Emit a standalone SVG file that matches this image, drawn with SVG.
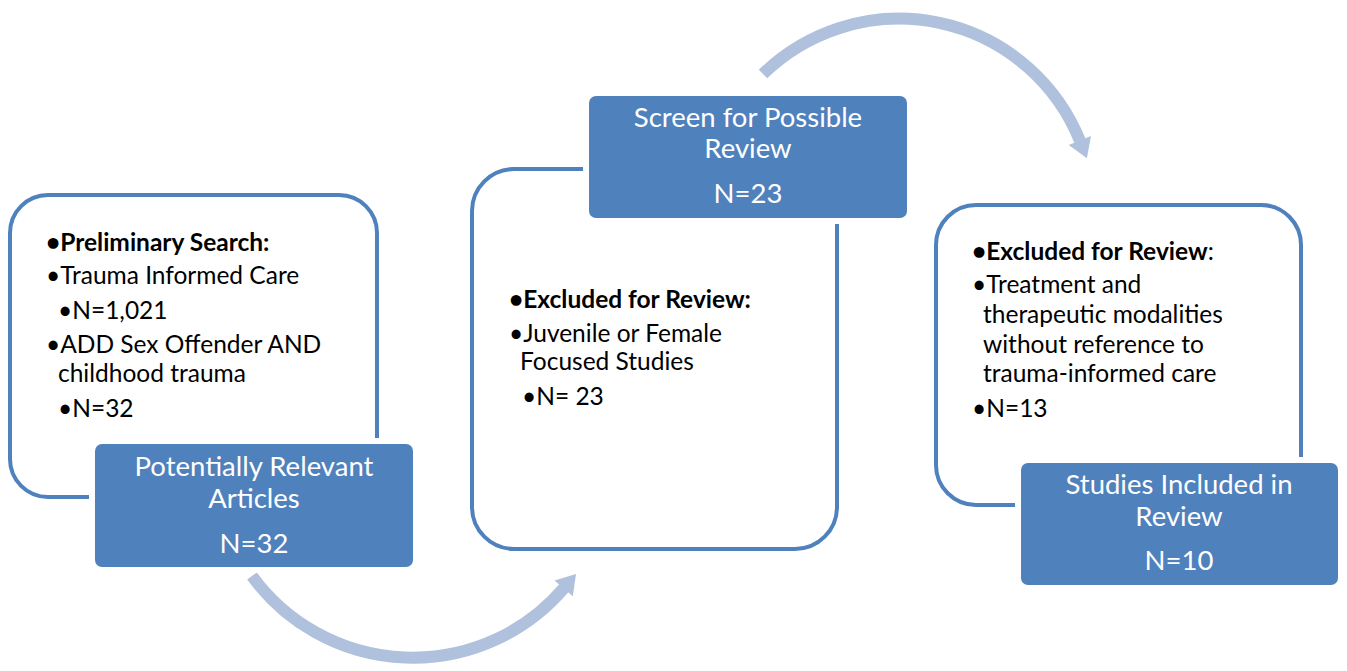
<svg xmlns="http://www.w3.org/2000/svg" width="1347" height="671" viewBox="0 0 1347 671">
<defs>
<style>
.outline{fill:#ffffff;stroke:#4f81bd;stroke-width:4}
.halo{fill:#ffffff;stroke:#ffffff;stroke-width:12}
.fill{fill:#4f81bd}
.list{font-family:Lato,"Liberation Sans",sans-serif;font-size:24.5px;fill:#000000}
.b{font-weight:bold}
.head{font-family:Lato,"Liberation Sans",sans-serif;font-size:27.5px;fill:#ffffff;text-anchor:middle}
.arc{fill:none;stroke:#b0c1de;stroke-width:12;marker-end:url(#ah)}
</style>
<marker id="ah" markerUnits="userSpaceOnUse" markerWidth="24" markerHeight="28" refX="0.5" refY="13" orient="auto" overflow="visible">
<path d="M0,1 L19,13 L0,25 Z" fill="#b0c1de"/>
</marker>
</defs>
<rect width="1347" height="671" fill="#ffffff"/>
<g id="connectors">
<path class="arc" d="M 252 576 A 199 199 0 0 0 564 588"/>
<path class="arc" d="M 763 74 A 195 195 0 0 1 1080 141"/>
</g>
<g id="node1">
<rect class="outline" x="10" y="195" width="367" height="302" rx="38"/>
<text class="list" x="46" y="251"><tspan class="b">•Preliminary Search:</tspan></text>
<text class="list" x="46" y="284">•Trauma Informed Care</text>
<text class="list" x="58" y="319">•N=1,021</text>
<text class="list" x="46" y="353">•ADD Sex Offender AND</text>
<text class="list" x="58" y="382">childhood trauma</text>
<text class="list" x="58" y="417">•N=32</text>
<rect class="halo" x="95" y="444" width="318" height="123" rx="7"/>
<rect class="fill" x="95" y="444" width="318" height="123" rx="7"/>
<text class="head" x="254" y="476">Potentially Relevant</text>
<text class="head" x="254" y="508">Articles</text>
<text class="head" x="254" y="553">N=32</text>
</g>
<g id="node2">
<rect class="outline" x="472" y="169" width="365" height="380" rx="42"/>
<text class="list" x="509" y="308"><tspan class="b">•Excluded for Review:</tspan></text>
<text class="list" x="509" y="342">•Juvenile or Female</text>
<text class="list" x="520" y="370">Focused Studies</text>
<text class="list" x="522" y="405">•N= 23</text>
<rect class="halo" x="589" y="96" width="318" height="122" rx="7"/>
<rect class="fill" x="589" y="96" width="318" height="122" rx="7"/>
<text class="head" x="748" y="127">Screen for Possible</text>
<text class="head" x="748" y="158">Review</text>
<text class="head" x="748" y="203">N=23</text>
</g>
<g id="node3">
<rect class="outline" x="936" y="205" width="365" height="300" rx="40"/>
<text class="list" x="972" y="260"><tspan class="b">•Excluded for Review</tspan>:</text>
<text class="list" x="972" y="293">•Treatment and</text>
<text class="list" x="983" y="323">therapeutic modalities</text>
<text class="list" x="983" y="353">without reference to</text>
<text class="list" x="983" y="382">trauma-informed care</text>
<text class="list" x="972" y="417">•N=13</text>
<rect class="halo" x="1021" y="463" width="317" height="122" rx="7"/>
<rect class="fill" x="1021" y="463" width="317" height="122" rx="7"/>
<text class="head" x="1179" y="494">Studies Included in</text>
<text class="head" x="1179" y="526">Review</text>
<text class="head" x="1179" y="570">N=10</text>
</g>
</svg>
